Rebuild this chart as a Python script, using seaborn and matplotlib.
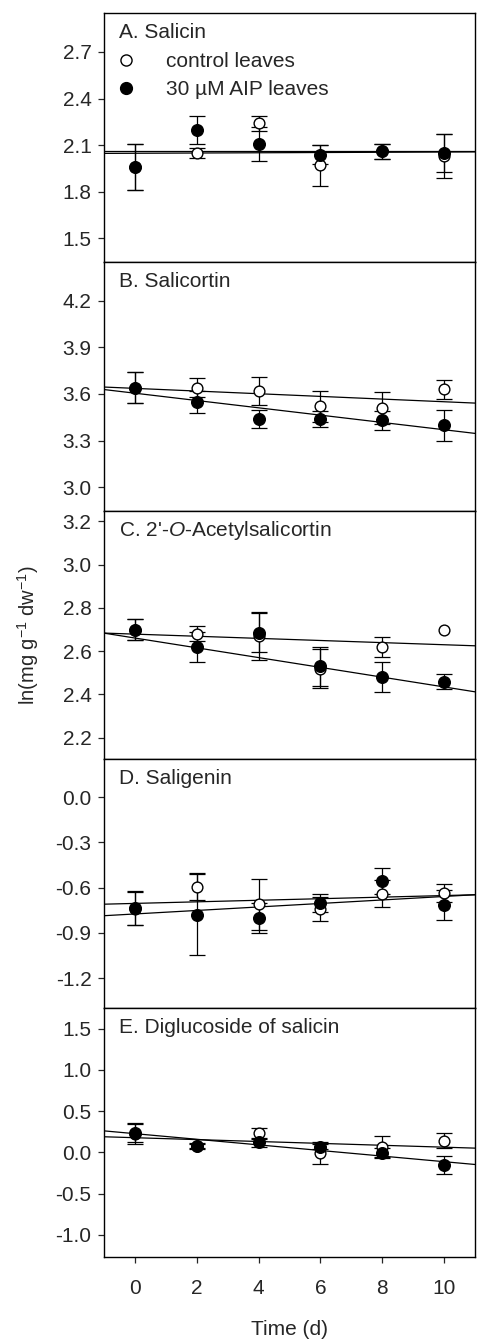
import numpy as np
import pandas as pd
import matplotlib
matplotlib.use("Agg")
import matplotlib.pyplot as plt
import seaborn as sns
from matplotlib.lines import Line2D

# ---------------- data ----------------
days = [0, 2, 4, 6, 8, 10]
panel_titles = ["A. Salicin", "B. Salicortin", "C. 2'-$\\mathit{O}$-Acetylsalicortin",
                "D. Saligenin", "E. Diglucoside of salicin"]

A_ctrl = [1.96, 2.05, 2.24, 1.97, 2.06, 2.03]
A_ctrl_err = [0.15, 0.03, 0.05, 0.13, 0.05, 0.14]
A_aip = [1.96, 2.20, 2.11, 2.04, 2.06, 2.05]
A_aip_err = [0.15, 0.09, 0.11, 0.06, 0.05, 0.12]

B_ctrl = [3.64, 3.64, 3.62, 3.52, 3.51, 3.63]
B_ctrl_err = [0.10, 0.06, 0.09, 0.10, 0.10, 0.06]
B_aip = [3.64, 3.55, 3.44, 3.44, 3.43, 3.40]
B_aip_err = [0.10, 0.07, 0.06, 0.05, 0.06, 0.10]

C_ctrl = [2.70, 2.68, 2.67, 2.52, 2.62, 2.70]
C_ctrl_err = [0.05, 0.035, 0.11, 0.09, 0.045, np.nan]
C_aip = [2.70, 2.62, 2.686, 2.53, 2.48, 2.46]
C_aip_err = [0.05, 0.07, 0.09, 0.09, 0.07, 0.035]

D_ctrl = [-0.74, -0.593, -0.71, -0.74, -0.64, -0.637]
D_ctrl_err = [0.11, 0.09, 0.17, 0.08, 0.09, 0.06]
D_aip = [-0.736, -0.78, -0.80, -0.70, -0.556, -0.716]
D_aip_err = [0.11, 0.27, 0.10, 0.06, 0.085, 0.10]

E_ctrl = [0.22, 0.08, 0.23, -0.01, 0.07, 0.14]
E_ctrl_err = [0.12, 0.03, 0.065, 0.13, 0.13, 0.09]
E_aip = [0.24, 0.076, 0.12, 0.07, -0.012, -0.153]
E_aip_err = [0.12, 0.03, 0.06, 0.03, 0.06, 0.11]

# regression lines: (intercept, slope)
fit_ctrl = [(2.048, 0.0008), (3.636, -0.0086), (2.679, -0.0049), (-0.705, 0.0052), (0.178, -0.0115)]
fit_aip = [(2.062, 0.0), (3.605, -0.0235), (2.661, -0.0226), (-0.775, 0.0116), (0.227, -0.034)]

ylims = [(1.35, 2.95), (2.85, 4.45), (2.10, 3.25), (-1.40, 0.25), (-1.27, 1.75)]
yticks = [[1.5, 1.8, 2.1, 2.4, 2.7], [3.0, 3.3, 3.6, 3.9, 4.2],
          [2.2, 2.4, 2.6, 2.8, 3.0, 3.2], [-1.2, -0.9, -0.6, -0.3, 0.0],
          [-1.0, -0.5, 0.0, 0.5, 1.0, 1.5]]
xticks = [0, 2, 4, 6, 8, 10]

ctrl_all = [A_ctrl, B_ctrl, C_ctrl, D_ctrl, E_ctrl]
ctrl_err_all = [A_ctrl_err, B_ctrl_err, C_ctrl_err, D_ctrl_err, E_ctrl_err]
aip_all = [A_aip, B_aip, C_aip, D_aip, E_aip]
aip_err_all = [A_aip_err, B_aip_err, C_aip_err, D_aip_err, E_aip_err]

# ---------------- style ----------------
sns.set_style("ticks")
plt.rcParams["font.family"] = ["Liberation Sans", "DejaVu Sans"]
plt.rcParams["mathtext.fontset"] = "custom"
plt.rcParams["mathtext.it"] = "Liberation Sans:italic"
plt.rcParams["mathtext.rm"] = "Liberation Sans"
FS = 15

fig = plt.figure(figsize=(4.79, 13.40), dpi=100)
W, H = 479, 1340
left_px, right_px = 104, 475
top_px, bottom_px = 13, 1257
ph = (bottom_px - top_px) / 5

axes = []
for i in range(5):
    t = top_px + i * ph
    ax = fig.add_axes([left_px / W, 1 - (t + ph) / H, (right_px - left_px) / W, ph / H])
    axes.append(ax)

for i, ax in enumerate(axes):
    df = pd.DataFrame({
        "day": days * 2,
        "value": ctrl_all[i] + aip_all[i],
        "err": ctrl_err_all[i] + aip_err_all[i],
        "group": ["control leaves"] * 6 + ["30 µM AIP leaves"] * 6,
    })
    xs = np.array([-1, 11])
    for (b0, b1) in (fit_ctrl[i], fit_aip[i]):
        sns.lineplot(x=xs, y=b0 + b1 * xs, ax=ax, color="black", lw=0.9, zorder=1)
    for grp, z in (("control leaves", 2), ("30 µM AIP leaves", 3)):
        d = df[(df.group == grp) & df["err"].notna()]
        ax.errorbar(d["day"], d["value"], yerr=d["err"], fmt="none", ecolor="black",
                    elinewidth=0.9, capsize=6, capthick=0.9, zorder=z)
    d_aip = df[df.group == "30 µM AIP leaves"]
    d_ctrl = df[df.group == "control leaves"]
    sns.scatterplot(data=d_ctrl, x="day", y="value", ax=ax, color="white",
                    edgecolor="black", s=60, linewidth=1, zorder=4, legend=False)
    sns.scatterplot(data=d_aip, x="day", y="value", ax=ax, color="black",
                    edgecolor="black", s=70, linewidth=1, zorder=5, legend=False)

    ax.set_xlim(-1, 11)
    ax.set_ylim(*ylims[i])
    ax.set_yticks(yticks[i])
    ax.set_yticklabels([f"{v:.1f}" for v in yticks[i]], fontsize=FS)
    ax.set_xticks(xticks)
    ax.set_xlabel("")
    ax.set_ylabel("")
    for s in ax.spines.values():
        s.set_visible(True)
        s.set_linewidth(1.0)
        s.set_color("black")
    ax.tick_params(axis="y", direction="out", length=4, width=0.9, pad=5, labelsize=FS)
    if i < 4:
        ax.tick_params(axis="x", bottom=False, labelbottom=False)
    else:
        ax.set_xticklabels([str(v) for v in xticks], fontsize=FS)
        ax.tick_params(axis="x", direction="out", length=4, width=0.9, pad=12, labelsize=FS)
        ax.set_xlabel("Time (d)", fontsize=FS, labelpad=16)
    ax.text(0.04, 0.922, panel_titles[i], transform=ax.transAxes, fontsize=FS,
            ha="left", va="center")

# legend in panel A
handles = [
    Line2D([], [], marker="o", ls="none", mfc="white", mec="black", ms=8, mew=1),
    Line2D([], [], marker="o", ls="none", mfc="black", mec="black", ms=8.5, mew=1),
]
axes[0].legend(handles, ["control leaves", "30 µM AIP leaves"], loc="upper left",
               bbox_to_anchor=(0.035, 0.842), frameon=False, fontsize=FS,
               borderaxespad=0, borderpad=0, handlelength=0.9, handletextpad=1.45,
               labelspacing=0.41)

fig.text(28 / W, 1 - 635 / H, "ln(mg g$^{-1}$ dw$^{-1}$)", rotation=90, fontsize=14.5,
         ha="center", va="center")

fig.savefig("out.png", dpi=100)
